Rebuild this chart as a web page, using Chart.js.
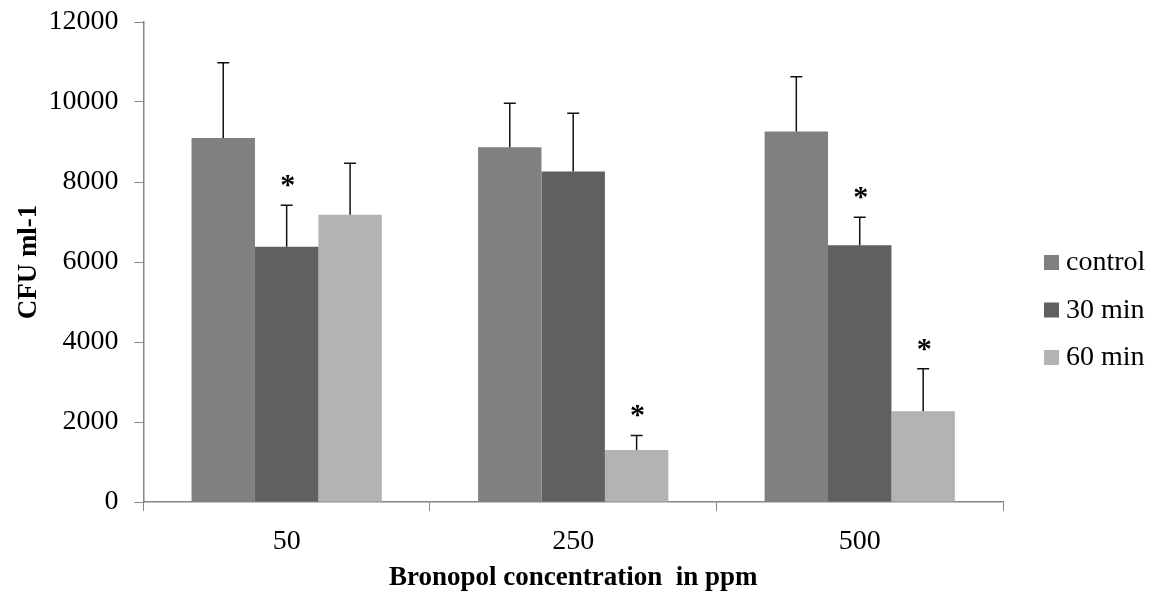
<!DOCTYPE html>
<html>
<head>
<meta charset="utf-8">
<script src="https://cdn.jsdelivr.net/npm/chart.js@4.4.0/dist/chart.umd.min.js"></script>
<style>
  html, body { margin: 0; padding: 0; background: #fff; }
  #wrap { width: 1160px; height: 594px; }
</style>
</head>
<body>
<div id="wrap"><canvas id="chart"></canvas></div>
<script>
const concentrations = ['50', '250', '500'];
const controlVals = [9100, 8870, 9260];
const min30Vals = [6380, 8260, 6420];
const min60Vals = [7180, 1300, 2270];
const controlErr = [1880, 1100, 1370];
const min30Err = [1040, 1460, 700];
const min60Err = [1290, 360, 1060];
const controlStar = [false, false, false];
const min30Star = [true, false, true];
const min60Star = [false, true, true];

const serif = "'Liberation Serif', 'Times New Roman', serif";

const errorBars = {
  id: 'errorBars',
  afterDatasetsDraw(chart) {
    const ctx = chart.ctx;
    const yScale = chart.scales.y;
    chart.data.datasets.forEach((ds, i) => {
      const meta = chart.getDatasetMeta(i);
      meta.data.forEach((bar, j) => {
        const top = yScale.getPixelForValue(ds.data[j] + ds.errors[j]);
        ctx.save();
        ctx.strokeStyle = '#111';
        ctx.lineWidth = 1.5;
        ctx.beginPath();
        ctx.moveTo(bar.x, bar.y);
        ctx.lineTo(bar.x, top);
        ctx.moveTo(bar.x - 6, top);
        ctx.lineTo(bar.x + 6, top);
        ctx.stroke();
        if (ds.stars[j]) {
          ctx.fillStyle = '#000';
          ctx.font = 'bold 30px ' + serif;
          ctx.textAlign = 'center';
          ctx.textBaseline = 'middle';
          ctx.fillText('*', bar.x + 1, top - 19);
        }
        ctx.restore();
      });
    });
  }
};

// legend drawn at the right, Excel style
const sideLegend = {
  id: 'sideLegend',
  afterDraw(chart) {
    const ctx = chart.ctx;
    const x = chart.chartArea.right + 41;
    const y0 = 262;
    ctx.save();
    ctx.font = '28px ' + serif;
    ctx.textBaseline = 'middle';
    ctx.textAlign = 'left';
    chart.data.datasets.forEach((ds, i) => {
      const y = y0 + i * 47.5;
      ctx.fillStyle = ds.backgroundColor;
      ctx.fillRect(x, y - 7, 15, 15);
      ctx.fillStyle = '#000';
      ctx.fillText(ds.label, x + 22, y + 1);
    });
    ctx.restore();
  }
};

new Chart(document.getElementById('chart'), {
  type: 'bar',
  data: {
    labels: concentrations,
    datasets: [{
      label: 'control',
      data: controlVals,
      errors: controlErr,
      stars: controlStar,
      backgroundColor: '#808080'
    }, {
      label: '30 min',
      data: min30Vals,
      errors: min30Err,
      stars: min30Star,
      backgroundColor: '#606060'
    }, {
      label: '60 min',
      data: min60Vals,
      errors: min60Err,
      stars: min60Star,
      backgroundColor: '#b3b3b3'
    }]
  },
  options: {
    responsive: true,
    maintainAspectRatio: false,
    animation: false,
    datasets: {
      bar: { categoryPercentage: 0.664, barPercentage: 1 }
    },
    layout: { padding: { top: 22, right: 157, left: 11, bottom: 0 } },
    plugins: {
      tooltip: { enabled: false },
      legend: { display: false }
    },
    scales: {
      x: {
        grid: { display: true, drawOnChartArea: false, color: '#868686', tickLength: 9, offset: true },
        border: { color: '#868686', width: 1.5 },
        ticks: { font: { family: serif, size: 28 }, color: '#000', padding: 14 },
        title: {
          display: true,
          text: 'Bronopol concentration  in ppm',
          font: { family: serif, size: 27, weight: 'bold' },
          color: '#000',
          padding: { top: -11, bottom: 0 }
        }
      },
      y: {
        min: 0,
        max: 12000,
        afterFit: scale => { scale.paddingTop = 0; },
        ticks: {
          stepSize: 2000,
          font: { family: serif, size: 28 },
          color: '#000',
          padding: 16,
          callback: v => String(v)
        },
        grid: { display: true, drawOnChartArea: false, color: '#868686', tickLength: 9 },
        border: { color: '#868686', width: 1.5 },
        title: {
          display: true,
          text: 'CFU ml-1',
          font: { family: serif, size: 27, weight: 'bold' },
          color: '#000',
          padding: { top: 2, bottom: -13 }
        }
      }
    }
  },
  plugins: [errorBars, sideLegend]
});
</script>
</body>
</html>
